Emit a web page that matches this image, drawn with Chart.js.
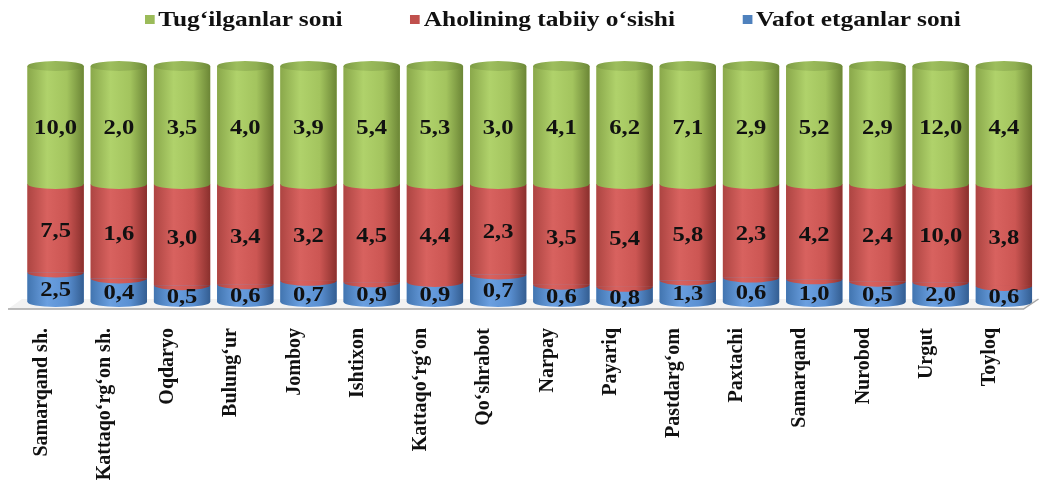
<!DOCTYPE html>
<html>
<head>
<meta charset="utf-8">
<script src="https://cdn.jsdelivr.net/npm/chart.js@4.4.0/dist/chart.umd.min.js"></script>
<style>
  html, body { margin: 0; padding: 0; background: #fff; }
  #wrap { position: relative; width: 1046px; height: 480px; }
  #legend {
    position: absolute; left: 145px; top: 7px;
    display: flex; gap: 56px; align-items: center;
    font: bold 21px 'Liberation Serif', 'Times New Roman', serif; color: #111;
    transform: scaleX(1.21); transform-origin: left center; white-space: nowrap;
  }
  #legend span { display: flex; align-items: center; }
  #legend i { display: inline-block; width: 8px; height: 9px; margin-right: 3px; }
</style>
</head>
<body>
<div id="wrap">
  <canvas id="chart" width="1046" height="480"></canvas>
  <div id="legend">
    <span><i style="background:#9bbb59"></i>Tug‘ilganlar soni</span>
    <span><i style="background:#c0504d"></i>Aholining tabiiy o‘sishi</span>
    <span><i style="background:#4f81bd"></i>Vafot etganlar soni</span>
  </div>
</div>
<script>
const categories = ['Samarqand sh.', 'Kattaqo‘rg‘on sh.', 'Oqdaryo', 'Bulung‘ur', 'Jomboy', 'Ishtixon',
  'Kattaqo‘rg‘on', 'Qo‘shrabot', 'Narpay', 'Payariq', 'Pastdarg‘om', 'Paxtachi', 'Samarqand',
  'Nurobod', 'Urgut', 'Toyloq'];
const deaths = [2.5, 0.4, 0.5, 0.6, 0.7, 0.9, 0.9, 0.7, 0.6, 0.8, 1.3, 0.6, 1.0, 0.5, 2.0, 0.6];
const growth = [7.5, 1.6, 3.0, 3.4, 3.2, 4.5, 4.4, 2.3, 3.5, 5.4, 5.8, 2.3, 4.2, 2.4, 10.0, 3.8];
const births = [10.0, 2.0, 3.5, 4.0, 3.9, 5.4, 5.3, 3.0, 4.1, 6.2, 7.1, 2.9, 5.2, 2.9, 12.0, 4.4];

// 100% stacked: each segment as share of the column total
const totals = categories.map((c, i) => deaths[i] + growth[i] + births[i]);
const share = arr => arr.map((v, i) => v / totals[i] * 100);

// cylinder shading: left, highlight, mid, right edge
const shades = [
  ['#4275b0', '#6a9fe0', '#5a90d2', '#345e92'],
  ['#ad4542', '#d8625f', '#cc5653', '#8a302d'],
  ['#8aa84b', '#b0d26b', '#a3c45e', '#6c8636']
];
const topShade = ['#7d9b44', '#9dbe5d', '#90af53', '#6d8938'];
const RY = 5;

function grad(ctx, left, right, c) {
  const g = ctx.createLinearGradient(left, 0, right, 0);
  g.addColorStop(0, c[0]);
  g.addColorStop(0.35, c[1]);
  g.addColorStop(0.7, c[2]);
  g.addColorStop(1, c[3]);
  return g;
}

const cylinders = {
  id: 'cylinders',
  beforeDatasetsDraw(chart) {
    const ctx = chart.ctx;
    const a = chart.chartArea;
    ctx.save();
    ctx.fillStyle = '#f2f2f2';
    ctx.strokeStyle = '#a6a6a6';
    ctx.lineWidth = 1.5;
    ctx.beginPath();
    ctx.moveTo(a.left - 16, a.bottom + 7);
    ctx.lineTo(a.right - 12, a.bottom + 7);
    ctx.lineTo(a.right + 3, a.bottom - 3);
    ctx.lineTo(a.left - 2, a.bottom - 3);
    ctx.closePath();
    ctx.fill();
    ctx.beginPath();
    ctx.moveTo(a.left - 16, a.bottom + 7);
    ctx.lineTo(a.right - 12, a.bottom + 7);
    ctx.lineTo(a.right + 3, a.bottom - 3);
    ctx.stroke();
    ctx.restore();
  },
  afterDatasetsDraw(chart) {
    const ctx = chart.ctx;
    const sets = chart.data.datasets;
    ctx.save();
    for (let i = 0; i < categories.length; i++) {
      sets.forEach((ds, d) => {
        const el = chart.getDatasetMeta(d).data[i];
        const w = el.width, left = el.x - w / 2, right = el.x + w / 2;
        ctx.fillStyle = grad(ctx, left, right, shades[d]);
        ctx.fillRect(left, el.y, w, el.base - el.y);
        ctx.beginPath();
        ctx.ellipse(el.x, el.base, w / 2, RY, 0, 0, Math.PI);
        ctx.fill();
        if (d === sets.length - 1) {
          ctx.beginPath();
          ctx.ellipse(el.x, el.y, w / 2, RY, 0, 0, Math.PI * 2);
          ctx.fillStyle = grad(ctx, left, right, topShade);
          ctx.fill();
        }
      });
    }
    // value labels
    ctx.fillStyle = '#111';
    ctx.font = 'bold 20px "Liberation Serif", "Times New Roman", serif';
    ctx.textAlign = 'center';
    ctx.textBaseline = 'middle';
    sets.forEach((ds, d) => {
      chart.getDatasetMeta(d).data.forEach((el, i) => {
        const txt = ds.raw[i].toFixed(1).replace('.', ',');
        ctx.save();
        ctx.translate(el.x, (el.y + el.base) / 2 + 4);
        ctx.scale(1.23, 1);
        ctx.fillText(txt, 0, 0);
        ctx.restore();
      });
    });
    ctx.restore();
  }
};

new Chart(document.getElementById('chart').getContext('2d'), {
  type: 'bar',
  data: {
    labels: categories,
    datasets: [
      { label: 'Vafot etganlar soni', data: share(deaths), raw: deaths, backgroundColor: '#4f81bd' },
      { label: 'Aholining tabiiy o‘sishi', data: share(growth), raw: growth, backgroundColor: '#c0504d' },
      { label: 'Tug‘ilganlar soni', data: share(births), raw: births, backgroundColor: '#9bbb59' }
    ]
  },
  options: {
    responsive: false,
    animation: false,
    layout: { padding: { top: 66, left: 24, right: 3 } },
    datasets: { bar: { barPercentage: 0.89, categoryPercentage: 1 } },
    scales: {
      x: {
        stacked: true,
        grid: { display: false },
        border: { display: false },
        ticks: {
          minRotation: 90, maxRotation: 90, padding: 18, labelOffset: -14, autoSkip: false,
          color: '#111',
          font: { family: '"Liberation Serif", "Times New Roman", serif', size: 20, weight: 'bold' }
        },
        afterFit: scale => { scale.height = 178; }
      },
      y: { stacked: true, min: 0, max: 100, display: false }
    },
    plugins: {
      legend: { display: false },
      tooltip: { enabled: false }
    }
  },
  plugins: [cylinders]
});
</script>
</body>
</html>
